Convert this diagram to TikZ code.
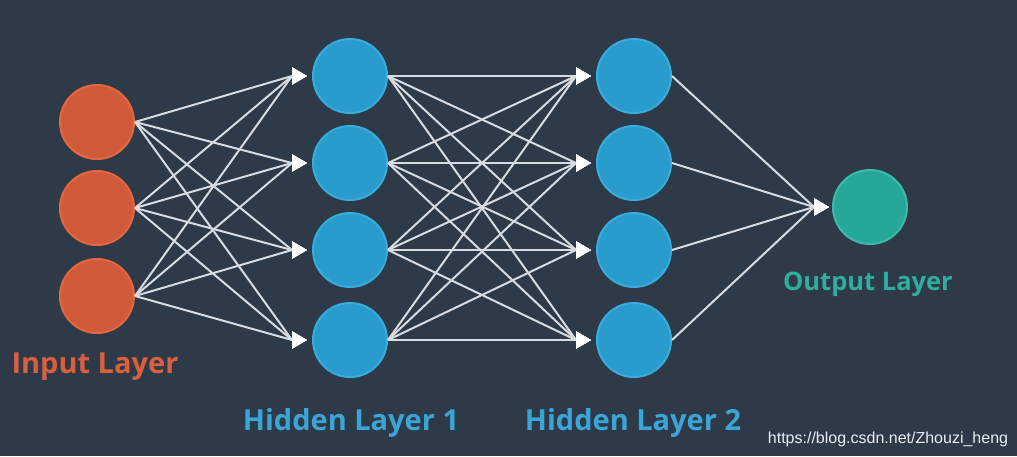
\documentclass[tikz,border=0pt]{standalone}
\usepackage{fontspec}
\setmainfont{Open Sans}
\newfontfamily\wmfont{Liberation Sans}
\usetikzlibrary{arrows.meta}
\definecolor{bg}{HTML}{2E3A48}
\definecolor{inF}{HTML}{D05A3A}
\definecolor{inR}{HTML}{E4683F}
\definecolor{hiF}{HTML}{2A9CCB}
\definecolor{hiR}{HTML}{38ACDC}
\definecolor{ouF}{HTML}{27A797}
\definecolor{ouR}{HTML}{3DBBAA}
\definecolor{lineC}{HTML}{D8DCE0}
\definecolor{inT}{HTML}{D8603F}
\definecolor{hiT}{HTML}{3AA5D6}
\definecolor{ouT}{HTML}{2FAE9E}
\definecolor{wmT}{HTML}{E8ECEF}
\tikzset{
  neuron/.style={circle, minimum size=74pt, inner sep=0pt, line width=2pt},
  inN/.style={neuron, fill=inF, draw=inR},
  hiN/.style={neuron, fill=hiF, draw=hiR},
  ouN/.style={neuron, fill=ouF, draw=ouR},
  conn/.style={draw=lineC, line width=2pt, line join=round,
    -{Triangle[length=15pt,width=17pt,fill=white,color=white]}},
  lab/.style={font=\bfseries\fontsize{29}{32}\selectfont, inner sep=0pt, anchor=base}
}
\begin{document}
\begin{tikzpicture}[x=1pt,y=-1pt]
\fill[bg] (0,0) rectangle (1017,456);
\useasboundingbox (0,0) rectangle (1017,456);
% nodes
\node[inN] (i1) at (97,122) {};
\node[inN] (i2) at (97,208) {};
\node[inN] (i3) at (97,296) {};
\foreach \k/\y in {1/76,2/163,3/250,4/340}{
  \node[hiN] (a\k) at (350,\y) {};
  \node[hiN] (b\k) at (634,\y) {};
}
\node[ouN] (o) at (870,207) {};
% connectors
\foreach \s in {1,2,3}{
  \foreach \t in {1,2,3,4}{
    \draw[conn] (i\s.east) -- ([xshift=-20pt]a\t.west) -- ([xshift=-5pt]a\t.west);
  }
}
\foreach \s in {1,2,3,4}{
  \foreach \t in {1,2,3,4}{
    \draw[conn] (a\s.east) -- ([xshift=-20pt]b\t.west) -- ([xshift=-5pt]b\t.west);
  }
  \draw[conn] (b\s.east) -- ([xshift=-18pt]o.west) -- ([xshift=-3pt]o.west);
}
% labels
\node[lab, text=inT] (li) at (95,373) {Input Layer};
\node[lab, text=hiT] (la) at (351,430) {Hidden Layer 1};
\node[lab, text=hiT] (lb) at (633,430) {Hidden Layer 2};
\node[lab, text=ouT, font=\bfseries\fontsize{25.5}{28}\selectfont] (lo) at (868,290) {Output Layer};
\node[text=wmT, font=\wmfont\fontsize{16}{19}\selectfont, inner sep=0pt, anchor=base] (wm) at (888,443) {https://blog.csdn.net/Zhouzi\_heng};
\end{tikzpicture}
\end{document}
